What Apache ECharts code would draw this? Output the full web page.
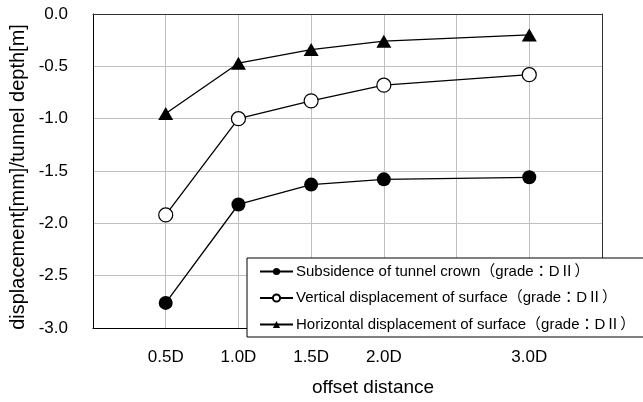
<!DOCTYPE html>
<html><head><meta charset="utf-8">
<script src="https://cdn.jsdelivr.net/npm/echarts@6/dist/echarts.min.js"></script>
<style>html,body{margin:0;padding:0;background:#fff}#c{width:643px;height:402px}</style>
</head><body><div id="c"></div>
<script>
const xValues = [0.5, 1.0, 1.5, 2.0, 3.0];
const xTickLabels = ['0.5D', '1.0D', '1.5D', '2.0D', '3.0D'];
const crownSubsidence = [-2.76, -1.82, -1.63, -1.58, -1.56];
const surfaceVertical = [-1.92, -1.00, -0.83, -0.68, -0.58];
const surfaceHorizontal = [-0.95, -0.47, -0.34, -0.26, -0.20];
const seriesNames = [
  'Subsidence of tunnel crown（grade：DⅡ）',
  'Vertical displacement of surface（grade：DⅡ）',
  'Horizontal displacement of surface（grade：DⅡ）'
];
const xTitle = 'offset distance';
const yTitle = 'displacement[mm]/tunnel depth[m]';

const FONT = '"Liberation Sans", Arial, "Noto Sans CJK JP", sans-serif';
const pair = arr => xValues.map((x, i) => [x, arr[i]]);
const chart = echarts.init(document.getElementById('c'));
chart.setOption({
  animation: false,
  backgroundColor: '#fff',
  textStyle: { fontFamily: FONT },
  grid: { left: 93, top: 14, right: 41, bottom: 74 },
  xAxis: [{
    type: 'value', min: 0, max: 3.5, interval: 0.5,
    axisLine: { onZero: false, lineStyle: { color: '#000', width: 1 } },
    axisTick: { show: false },
    axisLabel: {
      margin: 21, color: '#000', fontSize: 17, fontFamily: FONT,
      formatter: v => { const i = xValues.findIndex(x => Math.abs(x - v) < 1e-9); return i >= 0 ? xTickLabels[i] : ''; }
    },
    splitLine: { show: true, showMinLine: false, showMaxLine: false, lineStyle: { color: '#c0c0c0', width: 1 } }
  }, {
    type: 'value', min: 0, max: 3.5, position: 'top',
    axisLine: { show: true, onZero: false, lineStyle: { color: '#333', width: 1 } },
    axisTick: { show: false }, axisLabel: { show: false }, splitLine: { show: false }
  }],
  yAxis: [{
    type: 'value', min: -3, max: 0, interval: 0.5,
    axisLine: { show: true, onZero: false, lineStyle: { color: '#000', width: 1 } },
    axisTick: { show: false },
    axisLabel: { margin: 25, color: '#000', fontSize: 17, fontFamily: FONT, formatter: v => v.toFixed(1) },
    splitLine: { show: true, showMinLine: false, showMaxLine: false, lineStyle: { color: '#c0c0c0', width: 1 } }
  }, {
    type: 'value', min: -3, max: 0, position: 'right',
    axisLine: { show: true, onZero: false, lineStyle: { color: '#333', width: 1 } },
    axisTick: { show: false }, axisLabel: { show: false }, splitLine: { show: false }
  }],
  legend: {
    left: 247, top: 258, orient: 'vertical',
    backgroundColor: '#fff', borderColor: '#000', borderWidth: 1,
    padding: [6, 20, 5, 12],
    itemWidth: 33, itemHeight: 9, itemGap: 11.5,
    textStyle: { color: '#000', fontSize: 15, fontFamily: FONT, padding: [0, 0, 0, -2] },
    data: seriesNames
  },
  graphic: [
    { type: 'text', x: 373, y: 388, style: { text: xTitle, fill: '#000', font: '19px ' + FONT, textAlign: 'center', textVerticalAlign: 'middle' } },
    { type: 'text', x: 18, y: 177, rotation: Math.PI / 2, style: { text: yTitle, fill: '#000', font: '20px ' + FONT, textAlign: 'center', textVerticalAlign: 'middle' } }
  ],
  series: [
    { name: seriesNames[0], type: 'line', data: pair(crownSubsidence), symbol: 'circle', symbolSize: 14,
      itemStyle: { color: '#000' }, lineStyle: { color: '#000', width: 1.3 }, z: 3 },
    { name: seriesNames[1], type: 'line', data: pair(surfaceVertical), symbol: 'circle', symbolSize: 14,
      itemStyle: { color: '#fff', borderColor: '#000', borderWidth: 1.2 }, lineStyle: { color: '#000', width: 1.3 }, z: 3 },
    { name: seriesNames[2], type: 'line', data: pair(surfaceHorizontal), symbol: 'triangle', symbolSize: [15, 13],
      itemStyle: { color: '#000' }, lineStyle: { color: '#000', width: 1.3 }, z: 3 }
  ]
});
</script></body></html>
